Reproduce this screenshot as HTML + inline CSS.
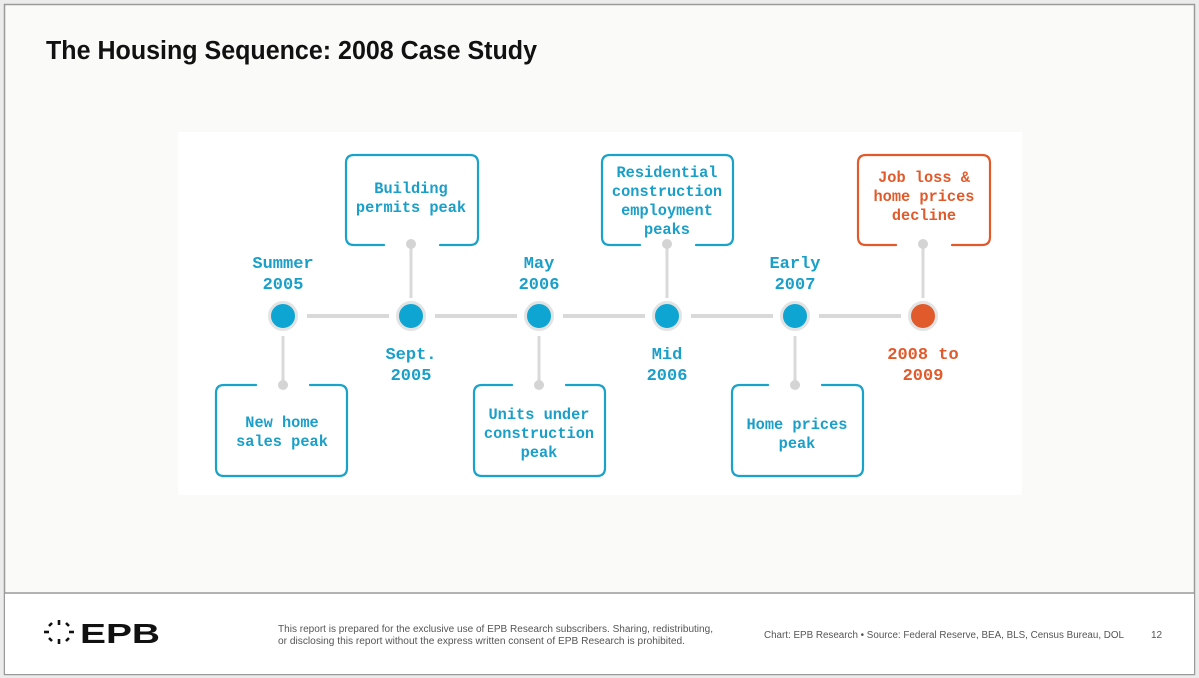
<!DOCTYPE html>
<html><head><meta charset="utf-8"><style>
html,body{margin:0;padding:0;background:#fff;}
svg{display:block;}
.m{font-family:"Liberation Mono",monospace;font-weight:bold;text-anchor:middle;}
.s{font-family:"Liberation Sans",sans-serif;}
</style></head><body>
<svg width="1199" height="678" viewBox="0 0 1199 678" xmlns="http://www.w3.org/2000/svg">
<rect x="0" y="0" width="1199" height="678" fill="#ececec"/>
<rect x="4.5" y="4.5" width="1190" height="670" fill="#fafaf8" stroke="#9a9a9a" stroke-width="1.5"/>
<line x1="4" y1="593" x2="1195" y2="593" stroke="#9a9a9a" stroke-width="1.5"/>
<rect x="5" y="594" width="1189" height="80" fill="#fff"/>
<text x="46" y="59" class="s" font-size="25.5" font-weight="bold" fill="#111" textLength="491" lengthAdjust="spacingAndGlyphs">The Housing Sequence: 2008 Case Study</text>
<rect x="178" y="132" width="844" height="363" fill="#fff"/>

<g stroke="#d9d9d9" stroke-width="4">
<line x1="307" y1="316" x2="389" y2="316"/>
<line x1="435" y1="316" x2="517" y2="316"/>
<line x1="563" y1="316" x2="645" y2="316"/>
<line x1="691" y1="316" x2="773" y2="316"/>
<line x1="819" y1="316" x2="901" y2="316"/>
</g>
<g stroke="#d9d9d9" stroke-width="3">
<line x1="411" y1="245" x2="411" y2="298"/>
<line x1="667" y1="245" x2="667" y2="298"/>
<line x1="923" y1="245" x2="923" y2="298"/>
<line x1="283" y1="336" x2="283" y2="385"/>
<line x1="539" y1="336" x2="539" y2="385"/>
<line x1="795" y1="336" x2="795" y2="385"/>
</g>
<g fill="#d4d4d4">
<circle cx="411" cy="244" r="5"/><circle cx="667" cy="244" r="5"/><circle cx="923" cy="244" r="5"/>
<circle cx="283" cy="385" r="5"/><circle cx="539" cy="385" r="5"/><circle cx="795" cy="385" r="5"/>
</g>
<g stroke="#e3e3e3" stroke-width="3">
<circle cx="283" cy="316" r="13.5" fill="#0ea5d2"/>
<circle cx="411" cy="316" r="13.5" fill="#0ea5d2"/>
<circle cx="539" cy="316" r="13.5" fill="#0ea5d2"/>
<circle cx="667" cy="316" r="13.5" fill="#0ea5d2"/>
<circle cx="795" cy="316" r="13.5" fill="#0ea5d2"/>
<circle cx="923" cy="316" r="13.5" fill="#e05a2b"/>
</g>

<g fill="none" stroke-width="2.2" stroke-linecap="round">
<path d="M384 245 H354 Q346 245 346 237 V163 Q346 155 354 155 H470 Q478 155 478 163 V237 Q478 245 470 245 H440" stroke="#1aa3c8"/>
<path d="M640 245 H610 Q602 245 602 237 V163 Q602 155 610 155 H725 Q733 155 733 163 V237 Q733 245 725 245 H696" stroke="#1aa3c8"/>
<path d="M896 245 H866 Q858 245 858 237 V163 Q858 155 866 155 H982 Q990 155 990 163 V237 Q990 245 982 245 H952" stroke="#e05a2b"/>
<path d="M256 385 H224 Q216 385 216 393 V468 Q216 476 224 476 H339 Q347 476 347 468 V393 Q347 385 339 385 H310" stroke="#1aa3c8"/>
<path d="M512 385 H482 Q474 385 474 393 V468 Q474 476 482 476 H597 Q605 476 605 468 V393 Q605 385 597 385 H566" stroke="#1aa3c8"/>
<path d="M768 385 H740 Q732 385 732 393 V468 Q732 476 740 476 H855 Q863 476 863 468 V393 Q863 385 855 385 H822" stroke="#1aa3c8"/>
</g>

<g class="m" font-size="17" fill="#1a9fc8">
<text x="283" y="268">Summer</text><text x="283" y="289">2005</text>
<text x="411" y="359">Sept.</text><text x="411" y="380">2005</text>
<text x="539" y="268">May</text><text x="539" y="289">2006</text>
<text x="667" y="359">Mid</text><text x="667" y="380">2006</text>
<text x="795" y="268">Early</text><text x="795" y="289">2007</text>
</g>
<g class="m" font-size="17" fill="#e05a2b">
<text x="923" y="359">2008 to</text><text x="923" y="380">2009</text>
</g>

<g class="m" font-size="15.3" fill="#1a9fc8">
<text x="411" y="193">Building</text><text x="411" y="212">permits peak</text>
<text x="667" y="177">Residential</text><text x="667" y="196">construction</text><text x="667" y="215">employment</text><text x="667" y="234">peaks</text>
<text x="282" y="427">New home</text><text x="282" y="446">sales peak</text>
<text x="539" y="419">Units under</text><text x="539" y="438">construction</text><text x="539" y="457">peak</text>
<text x="797" y="429">Home prices</text><text x="797" y="448">peak</text>
</g>
<g class="m" font-size="15.3" fill="#e05a2b">
<text x="924" y="182">Job loss &amp;</text><text x="924" y="201">home prices</text><text x="924" y="220">decline</text>
</g>

<g stroke="#111" stroke-width="2.6" stroke-linecap="butt">
<line x1="59" y1="620" x2="59" y2="625"/>
<line x1="66" y1="623" x2="69" y2="626"/>
<line x1="69" y1="632" x2="74" y2="632"/>
<line x1="66" y1="641" x2="69" y2="638"/>
<line x1="59" y1="639" x2="59" y2="644"/>
<line x1="49" y1="638" x2="52" y2="641"/>
<line x1="44" y1="632" x2="49" y2="632"/>
<line x1="49" y1="626" x2="52" y2="623"/>
</g>
<text x="80" y="643" class="s" font-size="28" font-weight="bold" fill="#111" textLength="80" lengthAdjust="spacingAndGlyphs">EPB</text>
<text x="278" y="632" class="s" font-size="10" fill="#555" textLength="435" lengthAdjust="spacingAndGlyphs">This report is prepared for the exclusive use of EPB Research subscribers. Sharing, redistributing,</text>
<text x="278" y="644" class="s" font-size="10" fill="#555" textLength="407" lengthAdjust="spacingAndGlyphs">or disclosing this report without the express written consent of EPB Research is prohibited.</text>
<text x="764" y="638" class="s" font-size="9.8" fill="#555" textLength="360" lengthAdjust="spacingAndGlyphs">Chart: EPB Research  •  Source: Federal Reserve, BEA, BLS, Census Bureau, DOL</text>
<text x="1151" y="638" class="s" font-size="10" fill="#555">12</text>
</svg>
</body></html>
